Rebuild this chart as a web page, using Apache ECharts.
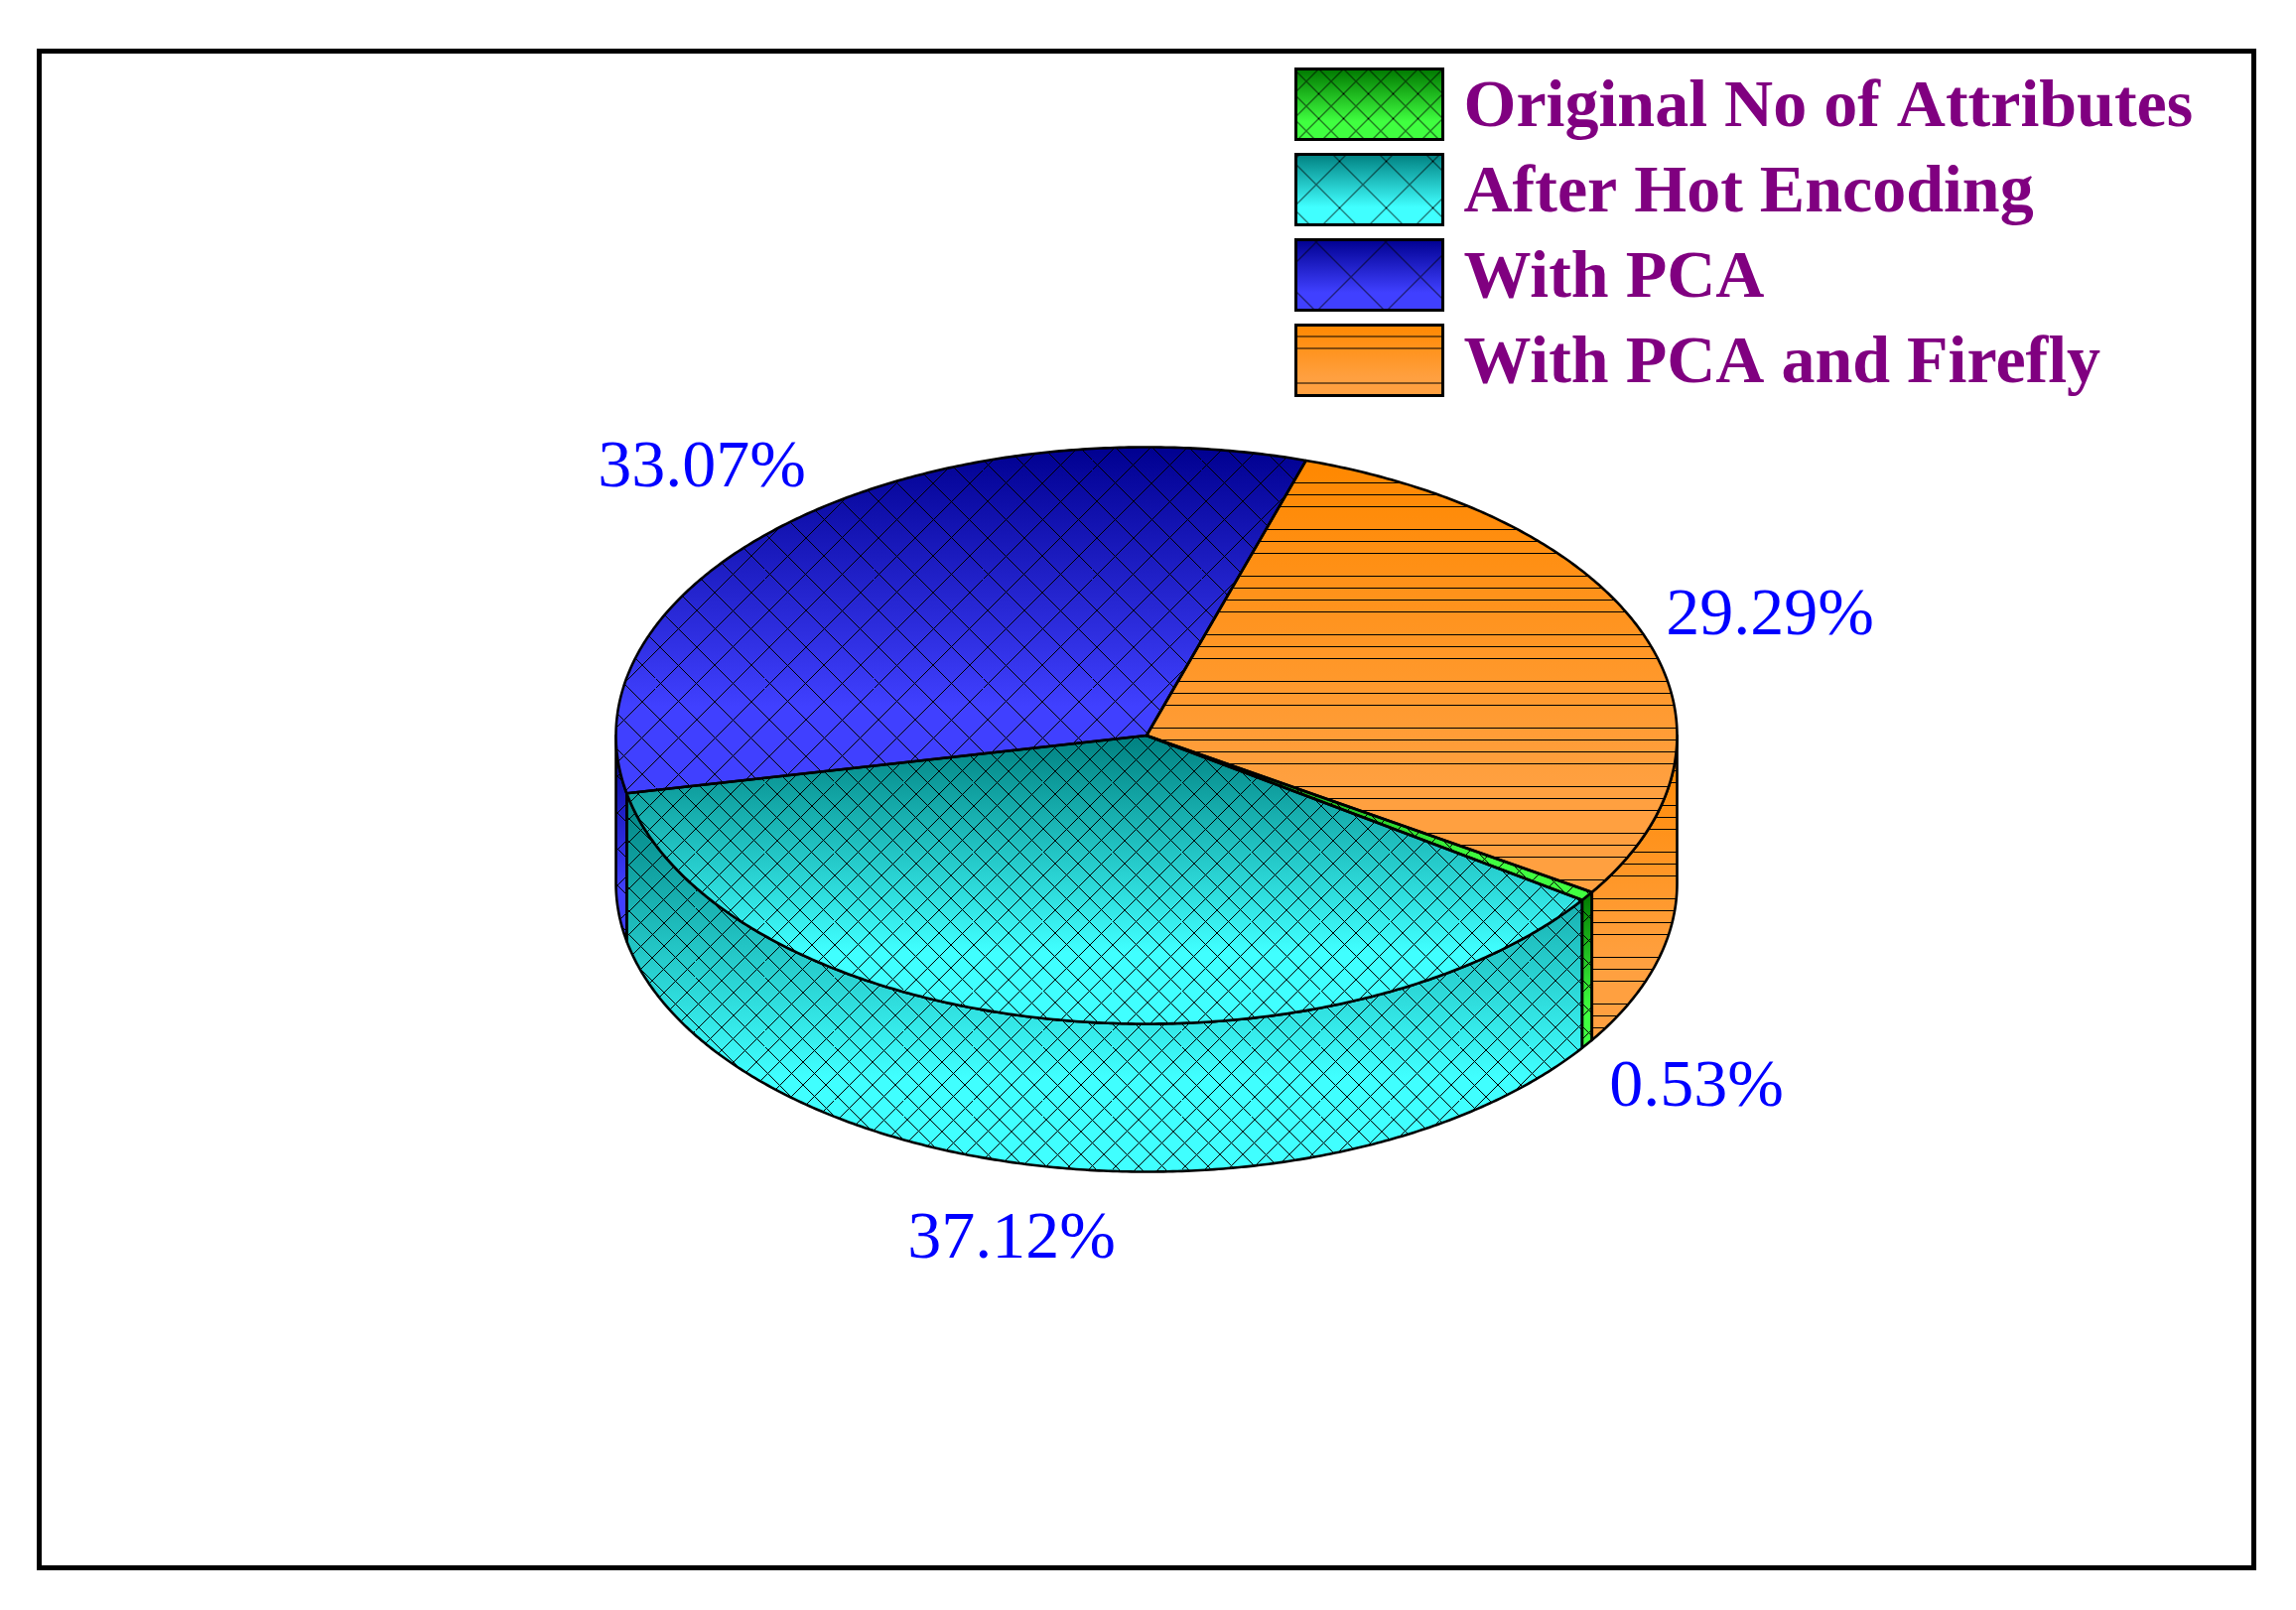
<!DOCTYPE html>
<html>
<head>
<meta charset="utf-8">
<title>Attributes pie</title>
<script src="https://cdn.jsdelivr.net/npm/echarts@6/dist/echarts.min.js"></script>
<style>
  html, body { margin: 0; padding: 0; background: #fff; }
  #chart { width: 2313px; height: 1622px; }
</style>
</head>
<body>
<div id="chart"></div>
<script>
const categories = ["Original No of Attributes", "After Hot Encoding", "With PCA", "With PCA and Firefly"];
const values = [0.53, 37.12, 33.07, 29.29];

// gradient ends, dark at the top of each piece
const topColors = ["#007800", "#008080", "#000090", "#ff8800"];
const bottomColors = ["#40ff40", "#40ffff", "#4040ff", "#ffa040"];
const gradEnd = 0.75;

// pie geometry
const cx = 1155, cy = 741, rx = 534.5, ry = 290.5, depth = 149;
const startAngle = -32.9;

// where the percent labels sit (centre of the text)
const labelX = [1709, 1019, 707, 1783];
const labelY = [1096, 1249, 472, 621];

function mod(a, b) { return ((a % b) + b) % b; }

// 1px aliased cross hatch, tile anchored on a crossing at absolute (ox, oy)
function drawCross(ctx, w, h, T, n, ox, oy) {
  ctx.fillStyle = "#000";
  for (let y = 0; y < h; y++) {
    for (let k = 0; k < n; k++) {
      const off = k * T / n;
      const x1 = Math.round(mod(y + off + ox - oy, T));
      const x2 = Math.round(mod(ox + oy + off - y, T));
      for (let x = x1; x < w; x += T) ctx.fillRect(x, y, 1, 1);
      for (let x = x2; x < w; x += T) ctx.fillRect(x, y, 1, 1);
    }
  }
}

function crossTile(T, n, ox, oy) {
  const c = document.createElement("canvas");
  c.width = T; c.height = T;
  drawCross(c.getContext("2d"), T, T, T, n, mod(ox, T), mod(oy, T));
  return { image: c, repeat: "repeat" };
}

// the orange lines come in groups of 3, 3 and 4, repeating every 153px
const lineOffsets = [0, 12, 24, 47, 59, 71, 94, 106, 118, 130];
function lineTile(oy) {
  const c = document.createElement("canvas");
  c.width = 8; c.height = 153;
  const ctx = c.getContext("2d");
  ctx.fillStyle = "#000";
  lineOffsets.forEach(function (o) { ctx.fillRect(0, mod(oy + o, 153), 8, 1); });
  return { image: c, repeat: "repeat" };
}

const faceHatch = [crossTile(70, 3, 1600, 900), crossTile(70, 3, 724, 858), crossTile(110, 3, 1178, 468), lineTile(486)];
const wallHatch = [crossTile(70, 3, 1600, 900), crossTile(70, 3, 1030, 1081), crossTile(110, 3, 640, 800), lineTile(811)];

// legend swatches have the gradient and a wider hatch baked in
function swatch(i) {
  const w = 148, h = 71;
  const c = document.createElement("canvas");
  c.width = w; c.height = h;
  const ctx = c.getContext("2d");
  const g = ctx.createLinearGradient(0, 0, 0, h);
  g.addColorStop(0, topColors[i]);
  g.addColorStop(gradEnd, bottomColors[i]);
  g.addColorStop(1, bottomColors[i]);
  ctx.fillStyle = g;
  ctx.fillRect(0, 0, w, h);
  if (i === 0) drawCross(ctx, w, h, 25, 1, 10, 12);
  if (i === 1) drawCross(ctx, w, h, 47, 1, 20, 30);
  if (i === 2) drawCross(ctx, w, h, 70, 1, 55, 37);
  if (i === 3) {
    ctx.fillStyle = "#000";
    [11, 23, 58].forEach(function (y) { ctx.fillRect(0, y, w, 1); });
  }
  return { image: c, repeat: "no-repeat" };
}

function arc(a0, a1, dy) {
  const pts = [];
  const steps = Math.max(2, Math.ceil(Math.abs(a1 - a0) * 2));
  for (let s = 0; s <= steps; s++) {
    const a = (a0 + (a1 - a0) * s / steps) * Math.PI / 180;
    pts.push([cx + rx * Math.cos(a), cy - ry * Math.sin(a) + dy]);
  }
  return pts;
}

function grad(i) {
  return {
    type: "linear", x: 0, y: 0, x2: 0, y2: 1,
    colorStops: [
      { offset: 0, color: topColors[i] },
      { offset: gradEnd, color: bottomColors[i] },
      { offset: 1, color: bottomColors[i] }
    ]
  };
}

function pieces(points, i, hatch, z) {
  return [
    { type: "polygon", z2: z, shape: { points: points }, style: { fill: grad(i), stroke: null } },
    { type: "polygon", z2: z + 1, shape: { points: points }, style: { fill: hatch[i], stroke: null } },
    { type: "polygon", z2: z + 2, shape: { points: points }, style: { fill: null, stroke: "#000", lineWidth: 2.6, lineJoin: "round" } }
  ];
}

function renderSlice(params, api) {
  const i = params.seriesIndex;
  const a0 = api.value(0), a1 = api.value(1);
  const children = [];
  // wall: the part of the rim on the lower half of the ellipse (angles run clockwise)
  [0, -360].forEach(function (base) {
    const w0 = Math.min(a0, base), w1 = Math.max(a1, base - 180);
    if (w0 > w1) {
      const wall = arc(w0, w1, 0).concat(arc(w1, w0, depth));
      children.push.apply(children, pieces(wall, i, wallHatch, 1));
    }
  });
  const face = [[cx, cy]].concat(arc(a0, a1, 0));
  children.push.apply(children, pieces(face, i, faceHatch, 10));
  children.push({
    type: "text", z2: 20,
    style: {
      x: labelX[i], y: labelY[i],
      text: api.value(2).toFixed(2) + "%",
      font: '68px "Liberation Serif"',
      fill: "#0000ff", textAlign: "center", textVerticalAlign: "middle"
    }
  });
  return { type: "group", children: children };
}

let running = startAngle;
const series = categories.map(function (name, i) {
  const from = running;
  running -= values[i] * 3.6;
  return {
    type: "custom",
    name: name,
    coordinateSystem: "none",
    renderItem: renderSlice,
    itemStyle: { color: bottomColors[i] },
    data: [[from, running, values[i]]],
    animation: false,
    silent: true
  };
});

const myChart = echarts.init(document.getElementById("chart"), null, { renderer: "canvas" });

myChart.setOption({
  backgroundColor: "#fff",
  animation: false,
  legend: {
    orient: "vertical",
    left: 1304,
    top: 66.5,
    padding: 0,
    itemWidth: 148,
    itemHeight: 71,
    itemGap: 9,
    icon: "rect",
    align: "left",
    selectedMode: false,
    formatter: "{t|{name}}",
    textStyle: {
      rich: {
        t: {
          fontFamily: "Liberation Serif",
          fontWeight: "bold",
          fontSize: 68,
          lineHeight: 50,
          color: "#800080",
          padding: [9, 0, 0, 16]
        }
      }
    },
    data: categories.map(function (name, i) {
      return { name: name, itemStyle: { color: swatch(i), borderColor: "#000", borderWidth: 3 } };
    })
  },
  graphic: [{
    type: "rect",
    shape: { x: 39.5, y: 51.5, width: 2231, height: 1528 },
    style: { fill: null, stroke: "#000", lineWidth: 5 }
  }],
  series: series
});
</script>
</body>
</html>
